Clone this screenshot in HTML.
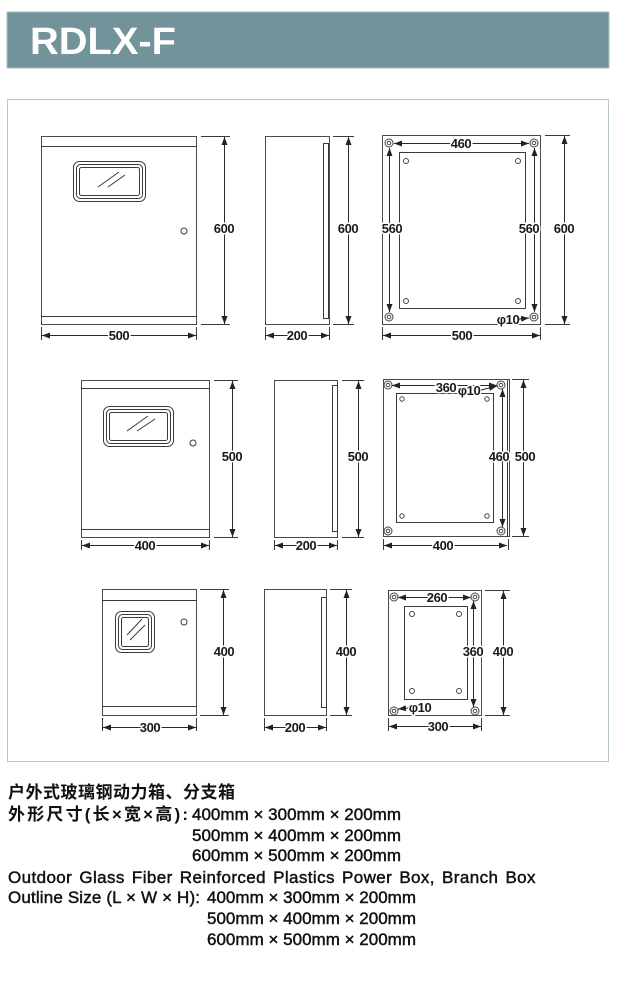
<!DOCTYPE html>
<html><head><meta charset="utf-8"><style>
html,body{margin:0;padding:0;background:#fff;width:620px;height:1000px;overflow:hidden}
svg{display:block}
.l{stroke:#3a3a3a;stroke-width:1;fill:none}
.b{stroke:#4a4a4a;stroke-width:1;fill:#fff}
.d{stroke:#2a2a2a;stroke-width:1;fill:none;marker-start:url(#a);marker-end:url(#a)}
.e{stroke:#2a2a2a;stroke-width:1;fill:none;marker-end:url(#a)}
.t{font-family:"Liberation Sans",Arial,sans-serif;font-size:13px;font-weight:bold;letter-spacing:-0.4px;fill:#1a1a1a;text-anchor:middle;paint-order:stroke;stroke:#fff;stroke-width:3px;stroke-linejoin:round}
.hole{stroke:#444;stroke-width:1;fill:#fff}
.tx{font-family:"Liberation Sans","Noto Sans CJK SC",sans-serif;font-size:17px;fill:#111;stroke:#111;stroke-width:0.45px}
.cn{font-family:"Liberation Sans","Noto Sans CJK SC",sans-serif;font-size:17px;font-weight:bold;fill:#111}
</style></head><body>
<svg width="620" height="1000" viewBox="0 0 620 1000" xmlns="http://www.w3.org/2000/svg">
<defs>
<marker id="a" viewBox="0 0 8 6" refX="8" refY="3" markerWidth="8" markerHeight="6" markerUnits="userSpaceOnUse" orient="auto-start-reverse"><path d="M0,0L8,3L0,6z" fill="#222"/></marker>
</defs>

<!-- header -->
<rect x="7" y="12" width="602" height="56" fill="#72939a" stroke="#a9bcc0" stroke-width="1"/>
<text x="30" y="54" font-family="'Liberation Sans',Arial,sans-serif" font-size="38" font-weight="bold" fill="#fff" textLength="146" lengthAdjust="spacingAndGlyphs">RDLX-F</text>

<!-- frame -->
<rect x="7.5" y="99.5" width="601" height="662" fill="none" stroke="#b7c7ca" stroke-width="1"/>

<!-- ROW 1 -->
<rect class="b" x="41.5" y="136.5" width="155" height="188"/>
<line class="l" x1="41" y1="146.5" x2="197" y2="146.5"/>
<line class="l" x1="41" y1="316.5" x2="197" y2="316.5"/>
<rect class="l" x="73.5" y="161.5" width="72" height="40" rx="6"/>
<rect class="l" x="76.5" y="164.5" width="66" height="34" rx="4" stroke-width="1.6"/>
<rect class="l" x="79.5" y="167.5" width="60" height="28" rx="2" stroke="#777"/>
<line class="l" x1="98" y1="187" x2="119" y2="172" stroke="#666"/>
<line class="l" x1="108" y1="187" x2="125" y2="175" stroke="#666"/>
<circle class="l" cx="184" cy="231" r="3"/>
<line class="l" x1="201" y1="136.5" x2="230" y2="136.5"/>
<line class="l" x1="201" y1="324.5" x2="230" y2="324.5"/>
<line class="d" x1="224.5" y1="137" x2="224.5" y2="324"/>
<text class="t" x="224" y="233">600</text>
<line class="l" x1="41.5" y1="327" x2="41.5" y2="340"/>
<line class="l" x1="196.5" y1="327" x2="196.5" y2="340"/>
<line class="d" x1="42" y1="335.5" x2="196" y2="335.5"/>
<text class="t" x="119" y="340">500</text>

<rect class="b" x="265.5" y="136.5" width="64" height="188"/>
<rect class="l" x="323.5" y="143.5" width="5" height="175"/>
<line class="l" x1="333" y1="136.5" x2="354" y2="136.5"/>
<line class="l" x1="333" y1="324.5" x2="354" y2="324.5"/>
<line class="d" x1="348.5" y1="137" x2="348.5" y2="324"/>
<text class="t" x="348" y="233">600</text>
<line class="l" x1="265.5" y1="327" x2="265.5" y2="340"/>
<line class="l" x1="329.5" y1="327" x2="329.5" y2="340"/>
<line class="d" x1="266" y1="335.5" x2="329" y2="335.5"/>
<text class="t" x="297" y="340">200</text>

<rect class="b" x="382.5" y="135.5" width="158" height="189"/>
<rect class="l" x="399.5" y="152.5" width="126" height="156"/>
<g class="hole">
<circle cx="389" cy="143" r="4"/><circle cx="389" cy="143" r="1.8"/>
<circle cx="534" cy="143" r="4"/><circle cx="534" cy="143" r="1.8"/>
<circle cx="389" cy="317" r="4"/><circle cx="389" cy="317" r="1.8"/>
<circle cx="534" cy="317" r="4"/><circle cx="534" cy="317" r="1.8"/>
<circle cx="406" cy="161" r="2.5"/><circle cx="518" cy="161" r="2.5"/>
<circle cx="406" cy="301" r="2.5"/><circle cx="518" cy="301" r="2.5"/>
</g>
<line class="d" x1="394" y1="143.5" x2="529" y2="143.5"/>
<text class="t" x="461" y="148">460</text>
<line class="d" x1="389.5" y1="148" x2="389.5" y2="312"/>
<text class="t" x="392" y="233">560</text>
<line class="d" x1="534.5" y1="148" x2="534.5" y2="312"/>
<text class="t" x="529" y="233">560</text>
<line class="l" x1="545" y1="135.5" x2="570" y2="135.5"/>
<line class="l" x1="545" y1="324.5" x2="570" y2="324.5"/>
<line class="d" x1="564.5" y1="136" x2="564.5" y2="324"/>
<text class="t" x="564" y="233">600</text>
<line class="l" x1="382.5" y1="327" x2="382.5" y2="340"/>
<line class="l" x1="540.5" y1="327" x2="540.5" y2="340"/>
<line class="d" x1="383" y1="335.5" x2="540" y2="335.5"/>
<text class="t" x="462" y="340">500</text>
<text class="t" x="508" y="324">φ10</text>
<line class="e" x1="519" y1="319" x2="529" y2="318"/>

<!-- ROW 2 -->
<rect class="b" x="81.5" y="380.5" width="128" height="157"/>
<line class="l" x1="81" y1="388.5" x2="210" y2="388.5"/>
<line class="l" x1="81" y1="529.5" x2="210" y2="529.5"/>
<rect class="l" x="103.5" y="406.5" width="70" height="40" rx="6"/>
<rect class="l" x="106.5" y="409.5" width="64" height="34" rx="4" stroke-width="1.6"/>
<rect class="l" x="109.5" y="412.5" width="58" height="28" rx="2" stroke="#777"/>
<line class="l" x1="127" y1="431" x2="148" y2="416" stroke="#666"/>
<line class="l" x1="137" y1="431" x2="155" y2="419" stroke="#666"/>
<circle class="l" cx="193" cy="443" r="3"/>
<line class="l" x1="214" y1="380.5" x2="238" y2="380.5"/>
<line class="l" x1="214" y1="537.5" x2="238" y2="537.5"/>
<line class="d" x1="232.5" y1="381" x2="232.5" y2="537"/>
<text class="t" x="232" y="461">500</text>
<line class="l" x1="81.5" y1="540" x2="81.5" y2="550"/>
<line class="l" x1="209.5" y1="540" x2="209.5" y2="550"/>
<line class="d" x1="82" y1="545.5" x2="209" y2="545.5"/>
<text class="t" x="145" y="550">400</text>

<rect class="b" x="274.5" y="380.5" width="63" height="157"/>
<rect class="l" x="332.5" y="385.5" width="5" height="146"/>
<line class="l" x1="342" y1="380.5" x2="364" y2="380.5"/>
<line class="l" x1="342" y1="537.5" x2="364" y2="537.5"/>
<line class="d" x1="358.5" y1="381" x2="358.5" y2="537"/>
<text class="t" x="358" y="461">500</text>
<line class="l" x1="274.5" y1="540" x2="274.5" y2="550"/>
<line class="l" x1="337.5" y1="540" x2="337.5" y2="550"/>
<line class="d" x1="275" y1="545.5" x2="337" y2="545.5"/>
<text class="t" x="306" y="550">200</text>

<rect class="b" x="383.5" y="379.5" width="126" height="157"/>
<line class="l" x1="507.5" y1="380" x2="507.5" y2="536" stroke="#888"/>
<rect class="l" x="396.5" y="393.5" width="97" height="129"/>
<g class="hole">
<circle cx="388" cy="385" r="4"/><circle cx="388" cy="385" r="1.8"/>
<circle cx="501" cy="385" r="4"/><circle cx="501" cy="385" r="1.8"/>
<circle cx="388" cy="531" r="4"/><circle cx="388" cy="531" r="1.8"/>
<circle cx="501" cy="531" r="4"/><circle cx="501" cy="531" r="1.8"/>
<circle cx="402" cy="399" r="2.2"/><circle cx="487" cy="399" r="2.2"/>
<circle cx="402" cy="516" r="2.2"/><circle cx="487" cy="516" r="2.2"/>
</g>
<line class="d" x1="392" y1="385.5" x2="497" y2="385.5"/>
<text class="t" x="446" y="392">360</text>
<text class="t" x="469" y="395">φ10</text>
<line class="e" x1="481" y1="390" x2="497" y2="386"/>
<line class="d" x1="502.5" y1="389" x2="502.5" y2="527"/>
<text class="t" x="499" y="461">460</text>
<line class="l" x1="512" y1="379.5" x2="529" y2="379.5"/>
<line class="l" x1="512" y1="536.5" x2="529" y2="536.5"/>
<line class="d" x1="523.5" y1="380" x2="523.5" y2="536"/>
<text class="t" x="525" y="461">500</text>
<line class="l" x1="383.5" y1="539" x2="383.5" y2="550"/>
<line class="l" x1="508.5" y1="539" x2="508.5" y2="550"/>
<line class="d" x1="384" y1="545.5" x2="507" y2="545.5"/>
<text class="t" x="443" y="550">400</text>

<!-- ROW 3 -->
<rect class="b" x="102.5" y="589.5" width="94" height="126"/>
<line class="l" x1="102" y1="600.5" x2="197" y2="600.5"/>
<line class="l" x1="102" y1="706.5" x2="197" y2="706.5"/>
<rect class="l" x="115.5" y="611.5" width="39" height="41" rx="6"/>
<rect class="l" x="118.5" y="614.5" width="33" height="35" rx="4" stroke-width="1.6"/>
<rect class="l" x="121.5" y="617.5" width="27" height="29" rx="2" stroke="#777"/>
<line class="l" x1="127" y1="635" x2="142" y2="619" stroke="#666"/>
<line class="l" x1="130" y1="640" x2="145" y2="625" stroke="#666"/>
<circle class="l" cx="184" cy="622" r="3"/>
<line class="l" x1="200" y1="589.5" x2="229" y2="589.5"/>
<line class="l" x1="200" y1="715.5" x2="229" y2="715.5"/>
<line class="d" x1="223.5" y1="590" x2="223.5" y2="715"/>
<text class="t" x="224" y="656">400</text>
<line class="l" x1="102.5" y1="718" x2="102.5" y2="731"/>
<line class="l" x1="196.5" y1="718" x2="196.5" y2="731"/>
<line class="d" x1="103" y1="727.5" x2="196" y2="727.5"/>
<text class="t" x="150" y="732">300</text>

<rect class="b" x="264.5" y="589.5" width="62" height="126"/>
<rect class="l" x="321.5" y="597.5" width="5" height="110"/>
<line class="l" x1="330" y1="589.5" x2="352" y2="589.5"/>
<line class="l" x1="330" y1="715.5" x2="352" y2="715.5"/>
<line class="d" x1="346.5" y1="590" x2="346.5" y2="715"/>
<text class="t" x="346" y="656">400</text>
<line class="l" x1="264.5" y1="718" x2="264.5" y2="731"/>
<line class="l" x1="326.5" y1="718" x2="326.5" y2="731"/>
<line class="d" x1="265" y1="727.5" x2="326" y2="727.5"/>
<text class="t" x="295" y="732">200</text>

<rect class="b" x="388.5" y="590.5" width="93" height="125"/>
<rect class="l" x="404.5" y="606.5" width="63" height="93"/>
<g class="hole">
<circle cx="394" cy="597" r="4"/><circle cx="394" cy="597" r="1.8"/>
<circle cx="475" cy="597" r="4"/><circle cx="475" cy="597" r="1.8"/>
<circle cx="394" cy="711" r="4"/><circle cx="394" cy="711" r="1.8"/>
<circle cx="475" cy="711" r="4"/><circle cx="475" cy="711" r="1.8"/>
<circle cx="412" cy="614" r="2.5"/><circle cx="459" cy="614" r="2.5"/>
<circle cx="412" cy="691" r="2.5"/><circle cx="459" cy="691" r="2.5"/>
</g>
<line class="d" x1="398" y1="597.5" x2="471" y2="597.5"/>
<text class="t" x="437" y="602">260</text>
<line class="d" x1="473.5" y1="601" x2="473.5" y2="707"/>
<text class="t" x="473" y="656">360</text>
<line class="l" x1="485" y1="590.5" x2="510" y2="590.5"/>
<line class="l" x1="485" y1="715.5" x2="510" y2="715.5"/>
<line class="d" x1="503.5" y1="591" x2="503.5" y2="715"/>
<text class="t" x="503" y="656">400</text>
<text class="t" x="420" y="712">φ10</text>
<line class="e" x1="408" y1="708" x2="398" y2="709"/>
<line class="l" x1="388.5" y1="718" x2="388.5" y2="731"/>
<line class="l" x1="481.5" y1="718" x2="481.5" y2="731"/>
<line class="d" x1="389" y1="726.5" x2="481" y2="726.5"/>
<text class="t" x="438" y="731">300</text>

<!-- bottom text -->
<text class="cn" x="8" y="798" textLength="227" lengthAdjust="spacing">户外式玻璃钢动力箱、分支箱</text>
<text class="cn" x="8" y="820" textLength="180" lengthAdjust="spacing">外形尺寸(长×宽×高):</text>
<text class="tx" x="192" y="820" textLength="209" lengthAdjust="spacing">400mm × 300mm × 200mm</text>
<text class="tx" x="192" y="841" textLength="209" lengthAdjust="spacing">500mm × 400mm × 200mm</text>
<text class="tx" x="192" y="861" textLength="209" lengthAdjust="spacing">600mm × 500mm × 200mm</text>
<text class="tx" x="8" y="883" word-spacing="2" letter-spacing="0.4">Outdoor Glass Fiber Reinforced Plastics Power Box, Branch Box</text>
<text class="tx" x="8" y="903" textLength="192" lengthAdjust="spacing">Outline Size (L × W ×  H):</text>
<text class="tx" x="207" y="903" textLength="209" lengthAdjust="spacing">400mm × 300mm × 200mm</text>
<text class="tx" x="207" y="924" textLength="209" lengthAdjust="spacing">500mm × 400mm × 200mm</text>
<text class="tx" x="207" y="945" textLength="209" lengthAdjust="spacing">600mm × 500mm × 200mm</text>
</svg>
</body></html>
